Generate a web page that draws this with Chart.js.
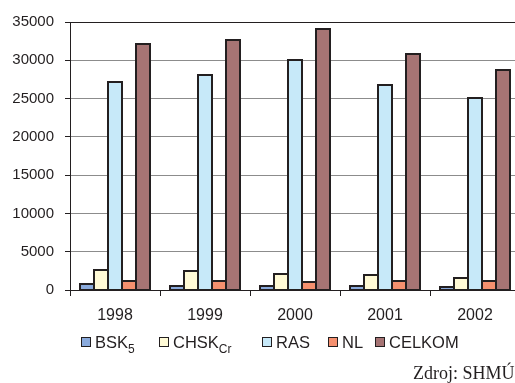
<!DOCTYPE html>
<html>
<head>
<meta charset="utf-8">
<script src="https://cdn.jsdelivr.net/npm/chart.js@4.4.1/dist/chart.umd.min.js"></script>
<style>
  html, body { margin: 0; padding: 0; background: #fff; overflow: hidden; }
  #wrap { position: relative; width: 515px; height: 383px; overflow: hidden; }
  #box { position: absolute; left: 0; top: 0; width: 530px; height: 383px; }
  .legend { position: absolute; top: 332px; left: 0; font: 16.5px "Liberation Sans", Arial, sans-serif; color: #231f20; white-space: nowrap; }
  .legend span.item { position: absolute; top: 0; line-height: 20px; }
  .legend i { display: inline-block; width: 8px; height: 8px; border: 1.5px solid #231f20; margin-right: 4px; vertical-align: 1px; }
  .legend sub { font-size: 12px; vertical-align: -5px; line-height: 0; }
  .source { position: absolute; left: 413px; top: 364px; font: 18px/18px "Liberation Serif", "Times New Roman", serif; color: #231f20; white-space: nowrap; }
</style>
</head>
<body>
<div id="wrap">
  <div id="box"><canvas id="c" width="530" height="383"></canvas></div>
  <div class="legend" id="legend"></div>
  <div class="source">Zdroj: SHMÚ</div>
</div>
<script>
// Years on the category axis
const years = ['1998', '1999', '2000', '2001', '2002'];

// Series values per year
const bsk5    = [730, 560, 470, 520, 430];
const chskCr  = [2610, 2480, 2040, 1910, 1570];
const ras     = [27210, 28050, 30040, 26780, 25130];
const nl      = [1170, 1210, 1080, 1170, 1120];
const celkom  = [32080, 32690, 34050, 30790, 28700];

// Value axis ticks
const yTicks = [0, 5000, 10000, 15000, 20000, 25000, 30000, 35000];

const series = [
  { label: 'BSK', sub: '5',  data: bsk5,   color: '#8aaadc' },
  { label: 'CHSK', sub: 'Cr', data: chskCr, color: '#fffad6' },
  { label: 'RAS', sub: '',   data: ras,    color: '#c7e9f9' },
  { label: 'NL', sub: '',    data: nl,     color: '#f5906f' },
  { label: 'CELKOM', sub: '', data: celkom, color: '#a67474' }
];

const ink = '#231f20';

// Outline each bar with a stroke centred on its edges
const barOutline = {
  id: 'barOutline',
  afterDatasetsDraw(chart) {
    const ctx = chart.ctx;
    ctx.save();
    ctx.strokeStyle = ink;
    ctx.lineWidth = 2;
    ctx.lineJoin = 'miter';
    chart.data.datasets.forEach((ds, i) => {
      chart.getDatasetMeta(i).data.forEach(bar => {
        const p = bar.getProps(['x', 'y', 'base', 'width'], true);
        const left = Math.round(p.x - p.width / 2);
        const right = Math.round(p.x + p.width / 2);
        ctx.strokeRect(left, Math.round(p.y), right - left, Math.round(p.base) - Math.round(p.y));
      });
    });
    ctx.restore();
  }
};

new Chart(document.getElementById('c'), {
  type: 'bar',
  data: {
    labels: years,
    datasets: series.map(s => ({
      label: s.label + s.sub,
      data: s.data,
      backgroundColor: s.color,
      borderWidth: 0,
      categoryPercentage: 70 / 90,
      barPercentage: 1
    }))
  },
  options: {
    responsive: false,
    animation: false,
    layout: { padding: { top: 22, left: 0, right: 10, bottom: 0 } },
    plugins: { legend: { display: false }, tooltip: { enabled: false } },
    scales: {
      x: {
        grid: { drawOnChartArea: false, drawTicks: true, tickLength: 6, color: ink, offset: true },
        border: { color: ink, width: 1 },
        ticks: { color: ink, font: { family: 'Liberation Sans, Arial', size: 16 }, padding: 10 },
        afterFit: s => { s.height = 93; }
      },
      y: {
        min: 0, max: 35000,
        afterBuildTicks: s => { s.ticks = yTicks.map(v => ({ value: v })); },
        grid: {
          color: ctx => (ctx.tick && ctx.tick.value === 35000) ? ink : '#8c8c8c',
          tickColor: ink,
          tickLength: 5,
          lineWidth: 1
        },
        border: { color: ink, width: 1 },
        ticks: {
          color: ink,
          font: { family: 'Liberation Sans, Arial', size: 15 },
          padding: 11,
          callback: v => String(v)
        },
        afterFit: s => { s.width = 70; }
      }
    }
  },
  plugins: [barOutline]
});

// Legend with subscripts
const legendPos = [81, 159, 262, 328, 375];
const legend = document.getElementById('legend');
series.forEach((s, i) => {
  const el = document.createElement('span');
  el.className = 'item';
  el.style.left = legendPos[i] + 'px';
  el.innerHTML = '<i style="background:' + s.color + '"></i>' + s.label + (s.sub ? '<sub>' + s.sub + '</sub>' : '');
  legend.appendChild(el);
});
</script>
</body>
</html>
